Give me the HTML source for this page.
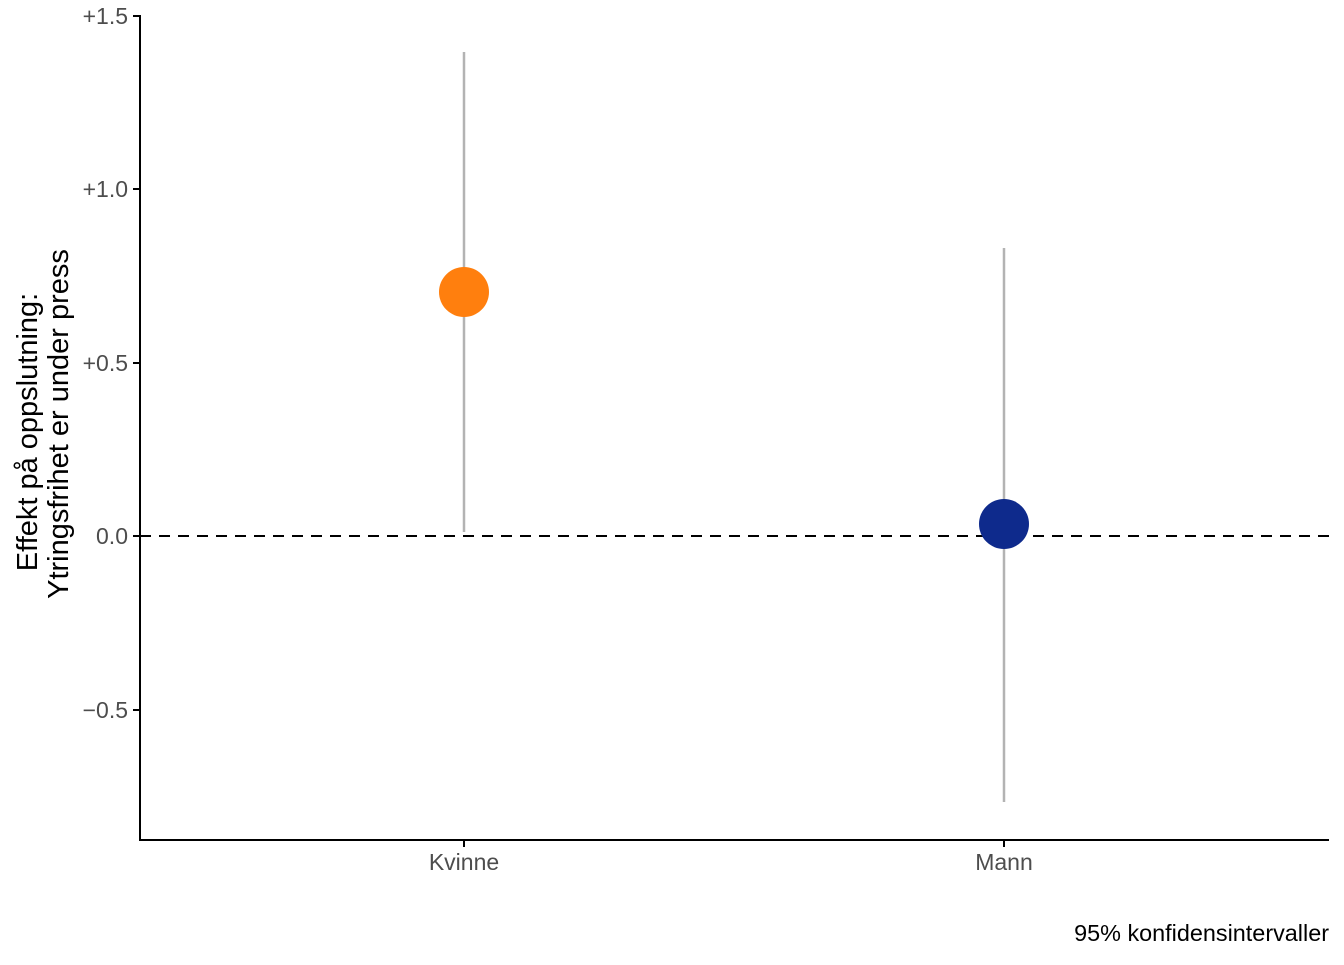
<!DOCTYPE html>
<html><head><meta charset="utf-8"><style>
html,body{margin:0;padding:0;background:#fff;}
text{font-family:"Liberation Sans",Arial,sans-serif;}
</style></head><body>
<svg width="1344" height="960" viewBox="0 0 1344 960" xmlns="http://www.w3.org/2000/svg">
<rect width="1344" height="960" fill="#fff"/>
<line x1="140" y1="15" x2="140" y2="841" stroke="#000" stroke-width="2"/>
<line x1="139" y1="840" x2="1329" y2="840" stroke="#000" stroke-width="2"/>
<g stroke="#000" stroke-width="2">
<line x1="133" y1="16" x2="140" y2="16"/>
<line x1="133" y1="189" x2="140" y2="189"/>
<line x1="133" y1="363" x2="140" y2="363"/>
<line x1="133" y1="536" x2="140" y2="536"/>
<line x1="133" y1="710" x2="140" y2="710"/>
<line x1="464" y1="840" x2="464" y2="847"/>
<line x1="1004" y1="840" x2="1004" y2="847"/>
</g>
<g font-size="23" fill="#4d4d4d" text-anchor="end">
<text x="128" y="24">+1.5</text>
<text x="128" y="197">+1.0</text>
<text x="128" y="371">+0.5</text>
<text x="128" y="544">0.0</text>
<text x="128" y="718">−0.5</text>
</g>
<g font-size="23" fill="#4d4d4d" text-anchor="middle">
<text x="464" y="870">Kvinne</text>
<text x="1004" y="870">Mann</text>
</g>
<text x="1329" y="941" font-size="23.4" fill="#000" text-anchor="end">95% konfidensintervaller</text>
<g font-size="29" fill="#000" text-anchor="middle">
<text transform="translate(37,432) rotate(-90)">Effekt på oppslutning:</text>
<text transform="translate(68,424) rotate(-90)">Ytringsfrihet er under press</text>
</g>
<line x1="140" y1="536" x2="1329" y2="536" stroke="#000" stroke-width="2" stroke-dasharray="11,8"/>
<line x1="464" y1="52" x2="464" y2="532" stroke="#b3b3b3" stroke-width="2.5"/>
<line x1="1004" y1="248" x2="1004" y2="802" stroke="#b3b3b3" stroke-width="2.5"/>
<circle cx="464" cy="292" r="25" fill="#ff7f0e"/>
<circle cx="1004" cy="524" r="25" fill="#0e2a8c"/>
</svg>
</body></html>
